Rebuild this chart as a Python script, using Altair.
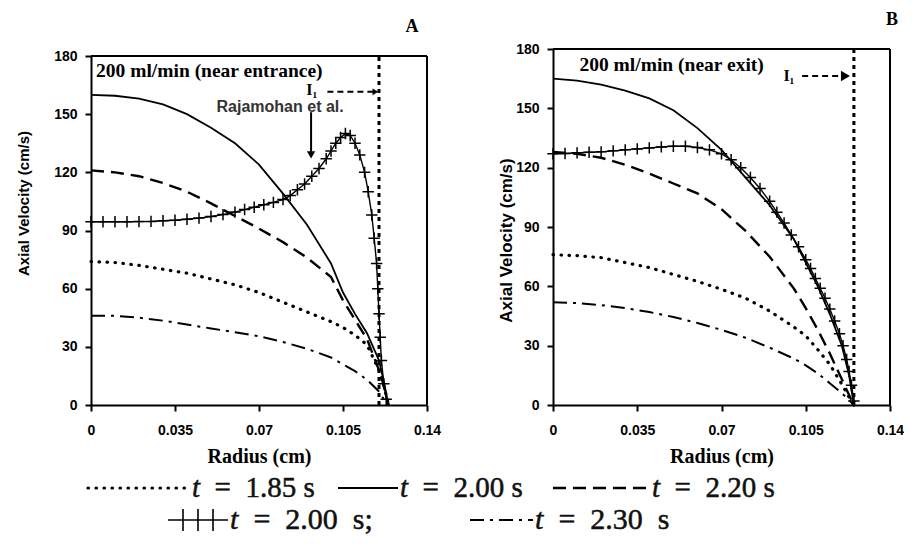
import altair as alt
import pandas as pd

# ---------------- data ----------------
series_keys = ["t185", "t200", "t220", "t230"]

radius_A = [0, 0.01, 0.02, 0.03, 0.04, 0.05, 0.06, 0.07, 0.08, 0.09, 0.10, 0.105, 0.11, 0.115, 0.12, 0.122, 0.124]
vel_A_185 = [74, 73.5, 72, 70, 68, 65, 62, 58, 53, 48, 43, 40, 36, 31, 18, 10, 0]
vel_A_200 = [160, 159.5, 158, 155, 150, 143, 135, 124, 109, 93, 73, 58, 47, 37, 23, 12, 0]
vel_A_220 = [121, 120, 118, 114.5, 110, 104, 97.5, 91, 84, 76, 66, 54, 44, 34, 18, 10, 0]
vel_A_230 = [46, 46, 45, 43.5, 41.5, 39.5, 37.5, 35.5, 32.5, 29, 24.5, 21, 17.5, 13, 7, 3, 0]

exp_radius_A = [0, 0.005, 0.01, 0.015, 0.02, 0.025, 0.03, 0.035, 0.04, 0.045, 0.05, 0.055, 0.06,
                0.064, 0.068, 0.072, 0.076, 0.08, 0.083, 0.086, 0.089, 0.092, 0.095, 0.098, 0.1,
                0.102, 0.104, 0.106, 0.108, 0.11, 0.112, 0.114, 0.1155, 0.117, 0.118, 0.119,
                0.1195, 0.12, 0.1205, 0.121, 0.122, 0.123]
exp_vel_A = [94.5, 94.5, 94.5, 94.5, 94.6, 94.7, 95, 95.3, 95.8, 96.4, 97.2, 98.2, 99.5,
             100.8, 102, 103.3, 104.5, 106, 108, 111, 114, 118, 122, 127, 131,
             135, 138, 140, 139, 135, 129, 120, 110, 98, 86, 73,
             60, 47, 35, 23, 11, 3]

radius_B = [0, 0.01, 0.02, 0.03, 0.04, 0.05, 0.06, 0.07, 0.08, 0.09, 0.10, 0.105, 0.11, 0.115, 0.12, 0.123, 0.125]
vel_B_185 = [76, 75.5, 74.5, 72, 69.5, 66, 62.5, 58.5, 54, 47.5, 39.5, 35, 28, 20.5, 10.5, 4, 0]
vel_B_200 = [165, 164, 162, 159, 155, 149, 140, 129, 115, 101, 84, 72, 60, 46, 30, 15, 0]
vel_B_220 = [128, 127, 125, 121.5, 117, 112, 107, 99, 88, 75, 59, 49, 38, 26, 13, 5, 0]
vel_B_230 = [52, 51.5, 50.5, 49, 47, 44.5, 41.5, 38, 34, 29, 23.5, 20, 16, 11, 6, 2.5, 0]

exp_radius_B = [0, 0.005, 0.01, 0.015, 0.02, 0.025, 0.03, 0.035, 0.04, 0.045, 0.05, 0.055, 0.06,
                0.065, 0.07, 0.074, 0.078, 0.082, 0.086, 0.09, 0.093, 0.096, 0.099, 0.102,
                0.105, 0.107, 0.109, 0.111, 0.113, 0.115, 0.117, 0.119, 0.1205, 0.122,
                0.123, 0.124, 0.125]
exp_vel_B = [127, 127.2, 127.5, 127.8, 128, 128.5, 129, 129.5, 130, 130.5, 130.8, 130.8, 130.2,
             129, 127, 124, 120, 115, 109.5, 103, 97.5, 92, 86, 80,
             73.5, 69, 64, 59, 54, 48.5, 42.5, 36, 30, 23,
             17, 10, 2]

x_ticks = [0, 0.035, 0.07, 0.105, 0.14]
y_ticks = [0, 30, 60, 90, 120, 150, 180]

note_A = "200 ml/min (near entrance)"
note_B = "200 ml/min (near exit)"
ref_label = "Rajamohan et al."
inlet_label = "I\u2081"
i1_radius_A = 0.12
i1_radius_B = 0.125

legend_keys = ["t185", "t200", "t220", "exp", "t230"]
legend_text = ["=\u20021.85 s", "=\u20022.00 s", "=\u20022.20 s",
               "=\u20022.00\u2002s;", "=\u20022.30\u2002s"]

# ---------------- styles ----------------
SERIF = "Liberation Serif, Times New Roman, DejaVu Serif, serif"
SANS = "Liberation Sans, Arial, sans-serif"
STYLES = {
    "t185": dict(strokeDash=[0.5, 7.5], strokeWidth=3.2, strokeCap="round"),
    "t200": dict(strokeWidth=1.8),
    "t220": dict(strokeDash=[13, 7], strokeWidth=2.4),
    "t230": dict(strokeDash=[14, 6, 3, 6], strokeWidth=2.0),
}
PLUS = "M-1,0L1,0M0,-1L0,1"
GROUP_H = 356


def build_panel(letter, letter_x, radius, curves, exp_r, exp_v, note, note_pos, note_size, i1_x,
                i1_text_pos, arrow, head_size, raj, width, top_off, title_pad, title_size, title_y):
    xs = alt.Scale(domain=[0, 0.14], nice=False, zero=False)
    ys = alt.Scale(domain=[0, 180], nice=False, zero=False, range=[GROUP_H, top_off])
    xa = alt.Axis(values=x_ticks, format=".3~f", title="Radius (cm)", grid=False,
                  domainWidth=2, domainColor="black", tickWidth=2, tickColor="black", tickSize=6,
                  labelFont=SANS, labelFontWeight="bold", labelFontSize=14, labelColor="black",
                  labelPadding=12, labelFlush=False,
                  titleFont=SERIF, titleFontWeight="bold", titleFontSize=20, titleColor="black",
                  titlePadding=9)
    ya = alt.Axis(values=y_ticks, title="Axial Velocity (cm/s)", grid=False,
                  domainWidth=2, domainColor="black", tickWidth=2, tickColor="black", tickSize=6,
                  labelFont=SANS, labelFontWeight="bold", labelFontSize=14, labelColor="black",
                  labelPadding=8, labelFlush=False,
                  titleFont=SANS, titleFontWeight="bold", titleFontSize=title_size, titleColor="black",
                  titlePadding=title_pad, titleY=title_y)

    def X(f):
        return alt.X(f"{f}:Q", scale=xs, axis=xa)

    def Y(f):
        return alt.Y(f"{f}:Q", scale=ys, axis=ya)

    layers = []
    # frame: top and right borders (left/bottom are the axis lines)
    layers.append(alt.Chart(pd.DataFrame({"y": [180]})).mark_rule(color="black", strokeWidth=2)
                  .encode(y=Y("y")))
    layers.append(alt.Chart(pd.DataFrame({"x": [0.14], "y0": [0], "y1": [180]}))
                  .mark_rule(color="black", strokeWidth=2).encode(x=X("x"), y=Y("y0"), y2="y1"))

    for key, vals in zip(series_keys, curves):
        df = pd.DataFrame({"r": radius, "v": vals})
        layers.append(alt.Chart(df).mark_line(color="black", **STYLES[key]).encode(x=X("r"), y=Y("v")))

    dexp = pd.DataFrame({"r": exp_r, "v": exp_v})
    layers.append(alt.Chart(dexp).mark_line(color="black", strokeWidth=1.4).encode(x=X("r"), y=Y("v")))
    layers.append(alt.Chart(dexp).mark_point(shape=PLUS, size=130, color="black", filled=False,
                                             strokeWidth=1.5, opacity=1).encode(x=X("r"), y=Y("v")))

    # I1 boundary line and label
    layers.append(alt.Chart(pd.DataFrame({"x": [i1_x], "y0": [0], "y1": [180]})).mark_rule(
        color="black", strokeDash=[4, 4], strokeWidth=3).encode(x=X("x"), y=Y("y0"), y2="y1"))
    layers.append(alt.Chart(pd.DataFrame({"x": [i1_text_pos[0]], "y": [i1_text_pos[1]], "t": [inlet_label]}))
                  .mark_text(font=SERIF, fontWeight="bold", fontSize=16, color="black")
                  .encode(x=X("x"), y=Y("y"), text="t:N"))
    darr = pd.DataFrame({"x0": [arrow[0]], "x1": [arrow[1]], "y": [arrow[2]]})
    layers.append(alt.Chart(darr).mark_rule(color="black", strokeDash=[6, 4], strokeWidth=2)
                  .encode(x=X("x0"), x2="x1", y=Y("y")))
    layers.append(alt.Chart(darr).mark_point(shape="triangle-right", filled=True, color="black",
                                             size=head_size, opacity=1).encode(x=X("x1"), y=Y("y")))

    # panel note
    layers.append(alt.Chart(pd.DataFrame({"x": [note_pos[0]], "y": [note_pos[1]], "t": [note]}))
                  .mark_text(font=SERIF, fontWeight="bold", fontSize=note_size, align="left", color="black")
                  .encode(x=X("x"), y=Y("y"), text="t:N"))

    if raj is not None:
        layers.append(alt.Chart(pd.DataFrame({"x": [raj[0]], "y": [raj[1]], "t": [ref_label]}))
                      .mark_text(font=SANS, fontWeight="bold", fontSize=16, color="#333333")
                      .encode(x=X("x"), y=Y("y"), text="t:N"))
        dra = pd.DataFrame({"x": [raj[2]], "y0": [raj[3]], "y1": [raj[4]]})
        layers.append(alt.Chart(dra).mark_rule(color="black", strokeWidth=2)
                      .encode(x=X("x"), y=Y("y0"), y2="y1"))
        layers.append(alt.Chart(dra).mark_point(shape="triangle-down", filled=True, color="black",
                                                size=70, opacity=1).encode(x=X("x"), y=Y("y1")))

    one = pd.DataFrame({"a": [0]})
    layers.append(alt.Chart(one).mark_text(font=SERIF, fontWeight="bold", fontSize=18, color="black")
                  .encode(x=alt.value(letter_x), y=alt.value(top_off - 29), text=alt.value(letter)))

    return alt.layer(*layers).properties(
        width=width, height=GROUP_H,
        view=alt.ViewBackground(stroke=None),
    )


panel_A = build_panel(
    "A", 321, radius_A, [vel_A_185, vel_A_200, vel_A_220, vel_A_230], exp_radius_A, exp_vel_A,
    note_A, (0.0021, 172.5), 19.5, i1_radius_A, (0.092, 162.3), (0.0985, 0.1185, 161.5), 45,
    (0.0788, 153.7, 0.0917, 151, 129), 336, 7, 22, 15, 154)

panel_B = build_panel(
    "B", 339, radius_B, [vel_B_185, vel_B_200, vel_B_220, vel_B_230], exp_radius_B, exp_vel_B,
    note_B, (0.011, 171.9), 19.5, i1_radius_B, (0.098, 166.3), (0.1035, 0.1215, 166.3), 110,
    None, 337, 0, 0, 17, 191)

top = alt.hconcat(panel_A, panel_B, spacing=56)

# ---------------- legend ----------------
LEG_ORIGIN = 91
LW, LH = 700, 70
lx = alt.Scale(domain=[LEG_ORIGIN, LEG_ORIGIN + LW], nice=False, zero=False)
ly = alt.Scale(domain=[0, LH], nice=False, zero=False, reverse=True)
leg_row_y = [22, 54]
leg_rows = [0, 0, 0, 1, 1]
leg_font = [29, 29, 29, 30, 30]
leg_x0 = [88, 338, 553, 168, 470]
leg_x1 = [190, 398, 650, 228, 533]

leg_layers = []
for i, key in enumerate(legend_keys):
    y = leg_row_y[leg_rows[i]]
    dseg = pd.DataFrame({"x0": [leg_x0[i]], "x1": [leg_x1[i]], "y": [y]})
    style = STYLES.get(key, dict(strokeWidth=1.4))
    leg_layers.append(alt.Chart(dseg).mark_rule(color="black", **style).encode(
        x=alt.X("x0:Q", scale=lx, axis=None), x2="x1", y=alt.Y("y:Q", scale=ly, axis=None)))
    if key == "exp":
        step = (leg_x1[i] - leg_x0[i]) / 4
        dt = pd.DataFrame({"x": [leg_x0[i] + step * k for k in (1, 2, 3)],
                           "y0": [y - 11] * 3, "y1": [y + 11] * 3})
        leg_layers.append(alt.Chart(dt).mark_rule(color="black", strokeWidth=1.6).encode(
            x=alt.X("x:Q", scale=lx, axis=None), y=alt.Y("y0:Q", scale=ly, axis=None), y2="y1"))
    fs = leg_font[i]
    dtx = pd.DataFrame({"x": [leg_x1[i] + 2], "x2": [leg_x1[i] + 2 + 0.28 * fs + 0.5 * fs],
                        "y": [y], "t": ["t"], "s": [legend_text[i]]})
    leg_layers.append(alt.Chart(dtx).mark_text(font=SERIF, fontSize=fs, fontStyle="italic", align="left",
                                               baseline="middle", color="#111111", stroke="#111111",
                                               strokeWidth=0.5).encode(
        x=alt.X("x:Q", scale=lx, axis=None), y=alt.Y("y:Q", scale=ly, axis=None), text="t:N"))
    leg_layers.append(alt.Chart(dtx).mark_text(font=SERIF, fontSize=fs, align="left",
                                               baseline="middle", color="#111111", stroke="#111111",
                                               strokeWidth=0.5).encode(
        x=alt.X("x2:Q", scale=lx, axis=None), y=alt.Y("y:Q", scale=ly, axis=None), text="s:N"))

legend = alt.layer(*leg_layers).properties(width=LW, height=LH, view=alt.ViewBackground(stroke=None))

chart = alt.vconcat(top, legend, spacing=0).properties(
    padding={"left": 8, "top": 3, "right": 0, "bottom": 0},
    background="white",
)

chart.save("out.html", embed_options={"renderer": "svg", "actions": False})
